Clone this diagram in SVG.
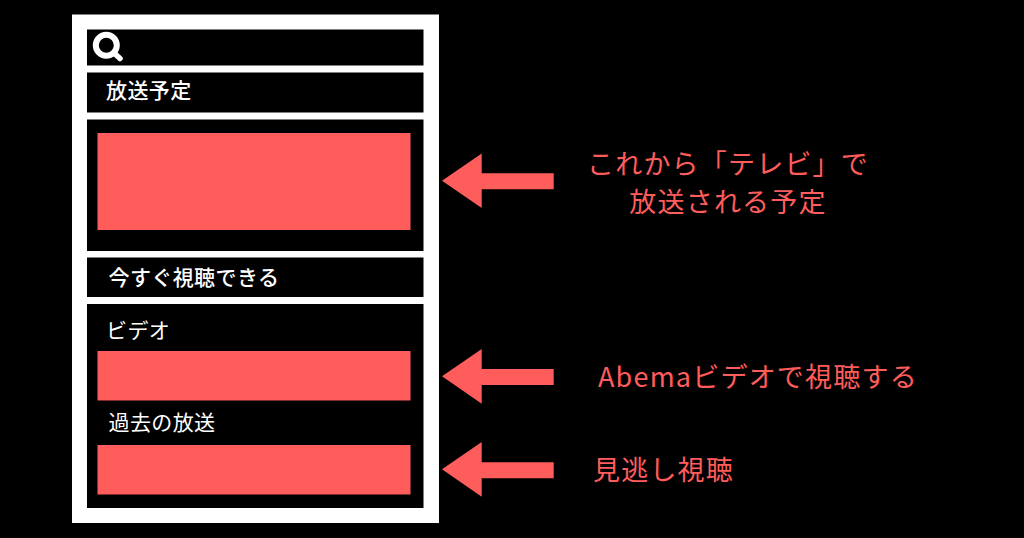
<svg xmlns="http://www.w3.org/2000/svg" width="1024" height="538" viewBox="0 0 1024 538">
<style>
text{font-family:"Noto Sans CJK JP","Noto Sans",sans-serif}
.p{fill:#000}
.r{fill:#ff5c5c}
.w{fill:#fff;font-size:21px;letter-spacing:.4px}
.b{font-weight:500}
.c{fill:#ff5c5c;font-size:27px;letter-spacing:1.2px}
</style>
<rect width="1024" height="538" fill="#000"/>
<g id="screen">
<rect x="72" y="14.5" width="367" height="508.5" fill="#fff"/>
</g>
<g id="search">
<rect class="p" x="87" y="29.5" width="336.5" height="36"/>
<circle cx="106.300" cy="45.300" r="10.500" fill="none" stroke="#fff" stroke-width="6"/>
<path d="M114 53L120 58.500" fill="none" stroke="#fff" stroke-width="5.500" stroke-linecap="round"/>
</g>
<g id="schedule-header">
<rect class="p" x="87" y="72.5" width="336.5" height="40"/>
<text class="w b" x="106" y="98">放送予定</text>
</g>
<g id="schedule-panel">
<rect class="p" x="87" y="119.5" width="336.5" height="131.5"/>
<rect class="r" x="97.5" y="133" width="313" height="97"/>
</g>
<g id="watch-header">
<rect class="p" x="87" y="257.5" width="336.5" height="39.5"/>
<text class="w b" x="108.500" y="285">今すぐ視聴できる</text>
</g>
<g id="watch-panel">
<rect class="p" x="87" y="304" width="336.5" height="204"/>
<text class="w" x="106" y="337.500">ビデオ</text>
<rect class="r" x="97.5" y="351" width="313" height="49.5"/>
<text class="w" x="108.500" y="430">過去の放送</text>
<rect class="r" x="97.5" y="445" width="313" height="49.5"/>
</g>
<g id="connectors">
<path class="r" d="M442 180.7L481.7 153.5V173.3H553.7V189.3H481.7V208Z"/>
<path class="r" d="M442 376.3L481.7 349V369H553.7V385H481.7V403.7Z"/>
<path class="r" d="M442 469.3L481.7 442V462.3H553.7V478.3H481.7V496.7Z"/>
</g>
<g id="label-tv">
<text class="c" x="728" y="174" text-anchor="middle">これから「テレビ」で</text>
<text class="c" x="728" y="212" text-anchor="middle">放送される予定</text>
</g>
<g id="label-abema">
<text class="c" x="598" y="386.500">Abemaビデオで視聴する</text>
</g>
<g id="label-missed">
<text class="c" x="593" y="480">見逃し視聴</text>
</g>
</svg>
